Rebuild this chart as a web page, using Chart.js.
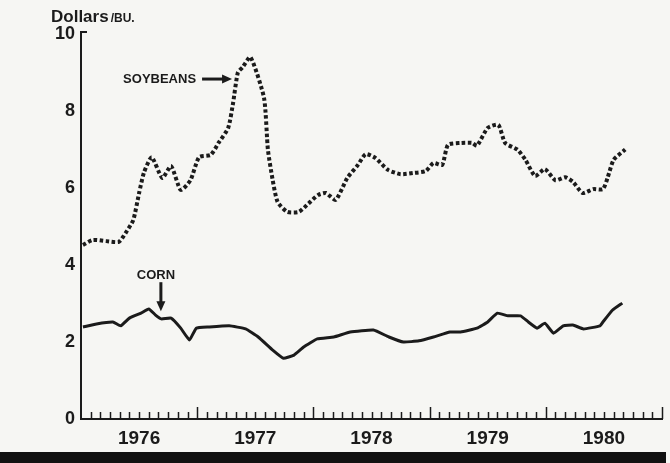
<!DOCTYPE html>
<html>
<head>
<meta charset="utf-8">
<script src="https://cdn.jsdelivr.net/npm/chart.js@4/dist/chart.umd.min.js"></script>
<style>
  html, body { margin: 0; padding: 0; background: #f6f6f3; }
  #wrap { position: relative; width: 670px; height: 463px; overflow: hidden; }
  #c { position: absolute; left: 0; top: 0; }
  #rule { position: absolute; left: 0; top: 452px; width: 666px; height: 11px; background: #111; }
</style>
</head>
<body>
<div id="wrap">
  <canvas id="c" width="670" height="463"></canvas>
  <div id="rule"></div>
</div>
<script>
// months counted from January 1976
const soyMonths = [0.2, 1.2, 2.6, 3.9, 4.6, 5.4, 6.0, 6.5, 7.3, 8.4, 9.3, 10.3, 11.3, 12.2, 13.4, 14.2, 15.2, 15.7, 16.2, 16.7, 17.5,
  18.9, 19.3, 19.8, 20.3, 21.3, 22.5, 23.5, 24.5, 25.3, 26.3, 27.5, 28.6, 29.4, 30.4, 31.7, 33.0, 34.3, 35.6, 36.4, 37.3,
  37.9, 39.2, 40.4, 40.9, 42.0, 43.1, 43.8, 45.1, 45.9, 46.9, 47.9, 49.0, 50.0, 50.8, 51.8, 52.9, 53.9, 54.4, 55.0, 56.2];
const soyPrices = [4.52, 4.65, 4.62, 4.6, 4.83, 5.17, 5.87, 6.4, 6.8, 6.26, 6.57, 5.95, 6.2, 6.8, 6.86, 7.17, 7.56, 8.2, 9.0, 9.14, 9.4,
  8.34, 7.0, 6.2, 5.64, 5.38, 5.38, 5.6, 5.82, 5.87, 5.69, 6.26, 6.6, 6.88, 6.78, 6.47, 6.36, 6.39, 6.44, 6.65, 6.6,
  7.12, 7.17, 7.17, 7.1, 7.56, 7.64, 7.17, 6.99, 6.73, 6.31, 6.49, 6.2, 6.28, 6.16, 5.87, 5.97, 5.97, 6.28, 6.73, 7.0];

const cornMonths = [0.2, 1.6, 3.3, 4.1, 5.0, 6.2, 7.0, 7.7, 8.3, 9.3, 10.3, 11.2, 11.9, 13.2, 15.3, 17.0, 18.3, 19.8, 20.9, 22.0,
  23.0, 24.4, 26.1, 27.8, 30.2, 31.8, 33.3, 34.9, 36.4, 38.1, 39.2, 40.9, 42.0, 43.0, 44.1, 45.4, 46.2, 47.1, 47.9, 48.8,
  49.8, 50.8, 51.9, 53.6, 53.9, 54.9, 55.9];
const cornPrices = [2.39, 2.47, 2.52, 2.42, 2.62, 2.75, 2.86, 2.7, 2.6, 2.62, 2.36, 2.05, 2.36, 2.39, 2.42, 2.34, 2.13, 1.79, 1.58, 1.66,
  1.87, 2.08, 2.13, 2.26, 2.31, 2.13, 2.0, 2.03, 2.13, 2.26, 2.26, 2.36, 2.52, 2.75, 2.68, 2.68, 2.52, 2.36, 2.49, 2.23,
  2.42, 2.44, 2.34, 2.42, 2.52, 2.83, 3.01];

const yearLabels = ['1976', '1977', '1978', '1979', '1980'];
const yTicks = [0, 2, 4, 6, 8, 10];

const ink = '#1b1b1b';
const face = '"Liberation Sans", Arial, sans-serif';

function pts(xs, ys) {
  return xs.map((x, i) => ({ x: x, y: ys[i] }));
}

// tick marks on the time axis, arrows and labels
const decor = {
  id: 'decor',
  afterDraw(chart) {
    const ctx = chart.ctx;
    const xs = chart.scales.x;
    const ys = chart.scales.y;
    const area = chart.chartArea;
    ctx.save();
    ctx.strokeStyle = ink;
    ctx.fillStyle = ink;

    // monthly ticks pointing up
    ctx.lineWidth = 1.5;
    for (let m = 1; m <= 60; m++) {
      const x = Math.round(xs.getPixelForValue(m)) + 0.5;
      const len = m % 12 === 0 ? 12 : 7;
      ctx.beginPath();
      ctx.moveTo(x, area.bottom);
      ctx.lineTo(x, area.bottom - len);
      ctx.stroke();
    }

    // corner at the top of the value axis
    ctx.lineWidth = 2;
    ctx.beginPath();
    ctx.moveTo(area.left, ys.getPixelForValue(10) + 2);
    ctx.lineTo(area.left, ys.getPixelForValue(10) - 2);
    ctx.lineTo(area.left + 6, ys.getPixelForValue(10) - 2);
    ctx.stroke();

    // unit label
    ctx.textBaseline = 'alphabetic';
    ctx.textAlign = 'left';
    ctx.font = 'bold 17px ' + face;
    ctx.fillText('Dollars', 51, 22);
    const w = ctx.measureText('Dollars').width;
    ctx.font = 'bold 12px ' + face;
    ctx.fillText('/BU.', 51 + w + 2, 22);

    // soybeans arrow
    const sx = xs.getPixelForValue(15.6);
    const sy = ys.getPixelForValue(8.83);
    ctx.font = 'bold 13px ' + face;
    ctx.textBaseline = 'middle';
    ctx.textAlign = 'right';
    ctx.fillText('SOYBEANS', sx - 36, sy);
    ctx.lineWidth = 3;
    ctx.beginPath();
    ctx.moveTo(sx - 30, sy);
    ctx.lineTo(sx - 8, sy);
    ctx.stroke();
    ctx.beginPath();
    ctx.moveTo(sx, sy);
    ctx.lineTo(sx - 10, sy - 4.5);
    ctx.lineTo(sx - 10, sy + 4.5);
    ctx.closePath();
    ctx.fill();

    // corn arrow
    const cx = xs.getPixelForValue(8.25);
    const cy = ys.getPixelForValue(2.8);
    ctx.textAlign = 'center';
    ctx.fillText('CORN', cx - 5, cy - 36);
    ctx.beginPath();
    ctx.moveTo(cx, cy - 29);
    ctx.lineTo(cx, cy - 8);
    ctx.stroke();
    ctx.beginPath();
    ctx.moveTo(cx, cy);
    ctx.lineTo(cx - 4.5, cy - 10);
    ctx.lineTo(cx + 4.5, cy - 10);
    ctx.closePath();
    ctx.fill();

    ctx.restore();
  }
};

new Chart(document.getElementById('c'), {
  type: 'line',
  data: {
    datasets: [
      {
        label: 'Soybeans',
        data: pts(soyMonths, soyPrices),
        borderColor: ink,
        borderWidth: 4,
        borderDash: [3.5, 2.5],
        pointRadius: 0,
        tension: 0.2,
        fill: false
      },
      {
        label: 'Corn',
        data: pts(cornMonths, cornPrices),
        borderColor: ink,
        borderWidth: 3,
        pointRadius: 0,
        tension: 0.12,
        fill: false
      }
    ]
  },
  options: {
    responsive: false,
    animation: false,
    layout: { padding: { top: 34, right: 8, left: 0, bottom: 0 } },
    plugins: {
      legend: { display: false },
      tooltip: { enabled: false }
    },
    scales: {
      x: {
        type: 'linear',
        min: 0,
        max: 60,
        grid: { display: false, drawTicks: false },
        border: { display: true, color: ink, width: 2 },
        afterFit(scale) { scale.height = 44; },
        afterBuildTicks(scale) {
          scale.ticks = yearLabels.map((_, i) => ({ value: i * 12 + 6 }));
        },
        ticks: {
          padding: 8,
          color: ink,
          font: { family: face, size: 19, weight: 'bold' },
          maxRotation: 0,
          autoSkip: false,
          callback: (v) => yearLabels[Math.round((v - 6) / 12)]
        }
      },
      y: {
        min: 0,
        max: 10,
        grid: { display: false, drawTicks: false },
        border: { display: true, color: ink, width: 2 },
        afterFit(scale) { scale.width = 81; },
        afterBuildTicks(scale) {
          scale.ticks = yTicks.map(v => ({ value: v }));
        },
        ticks: {
          padding: 6,
          color: ink,
          font: { family: face, size: 18, weight: 'bold' }
        }
      }
    }
  },
  plugins: [decor]
});
</script>
</body>
</html>
